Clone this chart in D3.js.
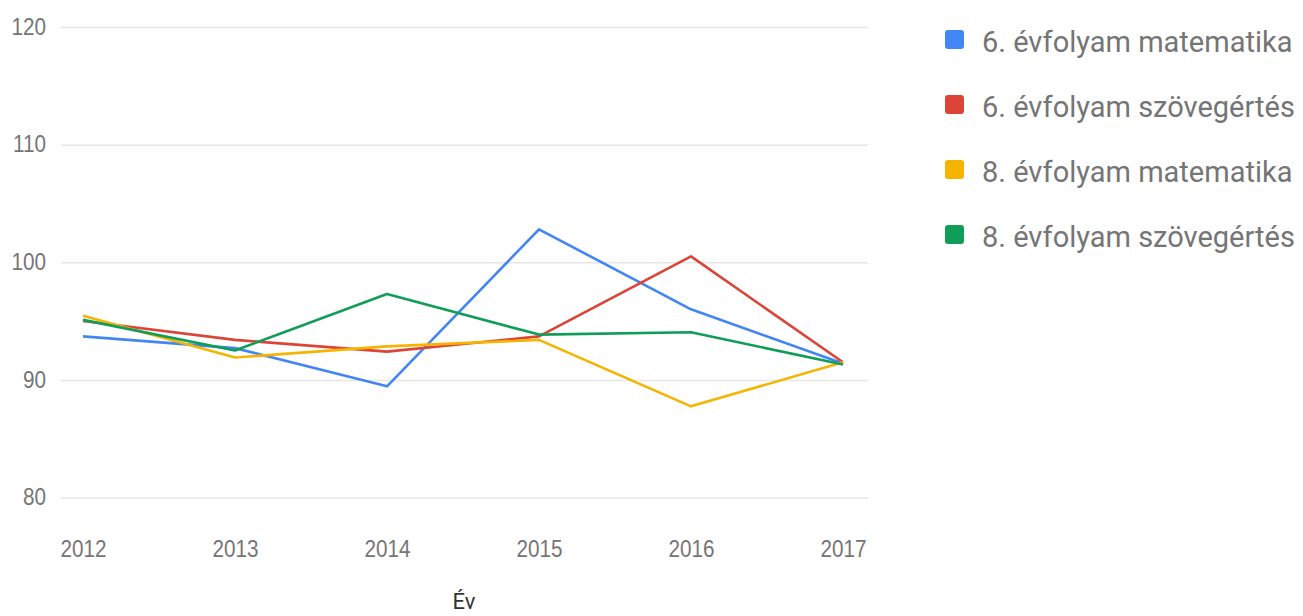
<!DOCTYPE html>
<html><head><meta charset="utf-8">
<script src="https://cdn.jsdelivr.net/npm/d3@7"></script>
<style>
html,body{margin:0;padding:0;background:#fff;}
svg{display:block;font-family:Roboto,"Noto Sans",sans-serif;}
</style></head>
<body>
<svg id="chart" width="1303" height="616"></svg>
<script>
const years = [2012, 2013, 2014, 2015, 2016, 2017];
const seriesNames = ["6. évfolyam matematika", "6. évfolyam szövegértés", "8. évfolyam matematika", "8. évfolyam szövegértés"];
const mat6 = [93.7, 92.7, 89.45, 102.8, 96.0, 91.4];
const szov6 = [95.0, 93.4, 92.4, 93.7, 100.5, 91.5];
const mat8 = [95.45, 91.9, 92.85, 93.4, 87.75, 91.5];
const szov8 = [95.1, 92.5, 97.3, 93.85, 94.05, 91.3];
const yTicks = [80, 90, 100, 110, 120];
const colors = ["#4285f4", "#db4437", "#f4b400", "#0f9d58"];
const xTitle = "Év";

const series = [mat6, szov6, mat8, szov8];
const svg = d3.select("#chart");

const x = d3.scaleLinear().domain([2012, 2017]).range([83, 843]);
const y = d3.scaleLinear().domain([80, 120]).range([497.5, 27]);
const sx = 0.9;

// gridlines + y labels
const yAxis = d3.axisLeft(y).tickValues(yTicks).tickSize(-(868 - 61)).tickFormat(d3.format("d"));
const gy = svg.append("g").attr("transform", "translate(61,0)").call(yAxis);
gy.select(".domain").remove();
gy.selectAll(".tick line").attr("stroke", "#e6e6e6").attr("stroke-width", 1.5);
gy.selectAll(".tick text").attr("fill", "#757575").attr("font-size", 23)
  .attr("x", -15 / sx).attr("dy", "0.32em").attr("transform", `scale(${sx},1)`);

// x labels
const xAxis = d3.axisBottom(x).tickValues(years).tickSize(0).tickFormat(d3.format("d"));
const gx = svg.append("g").call(xAxis);
gx.select(".domain").remove();
gx.selectAll(".tick text").attr("fill", "#757575").attr("font-size", 23)
  .attr("y", 557).attr("dy", 0).attr("transform", `scale(${sx},1)`);

svg.append("text").attr("x", 464).attr("y", 609).attr("text-anchor", "middle")
  .attr("fill", "#333").attr("font-size", 22).attr("transform", `scale(1,1)`).text(xTitle);

// lines
const line = d3.line().x((d, i) => x(years[i])).y(d => y(d));
series.forEach((s, k) => {
  svg.append("path").datum(s).attr("d", line).attr("fill", "none")
    .attr("stroke", colors[k]).attr("stroke-width", 2.6).attr("stroke-linejoin", "round");
});

// legend
const lg = svg.append("g");
seriesNames.forEach((n, k) => {
  const top = 30 + k * 65;
  lg.append("rect").attr("x", 945).attr("y", top).attr("width", 19).attr("height", 19).attr("rx", 3).attr("fill", colors[k]);
  lg.append("text").attr("x", 982).attr("y", top + 22).attr("fill", "#757575").attr("font-size", 29).text(n);
});
</script>
</body></html>
